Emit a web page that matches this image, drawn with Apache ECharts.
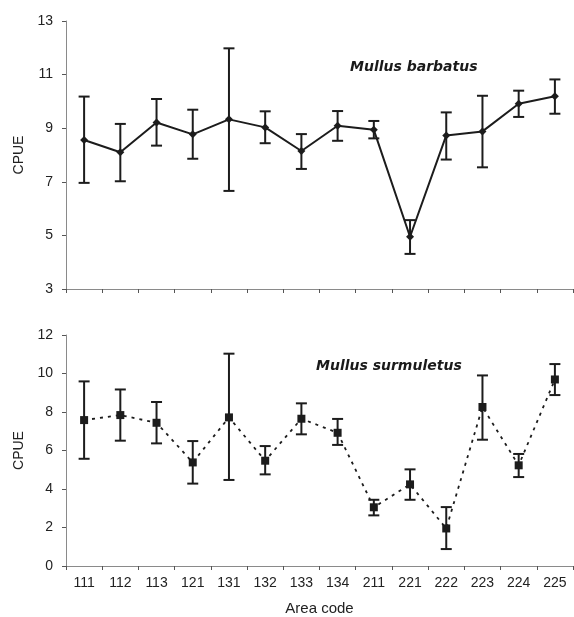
<!DOCTYPE html>
<html>
<head>
<meta charset="utf-8">
<script src="https://cdn.jsdelivr.net/npm/echarts@6/dist/echarts.min.js"></script>
<style>
  html, body { margin: 0; padding: 0; background: #fff; }
  #main { width: 574px; height: 617px; }
</style>
</head>
<body>
<div id="main"></div>
<script>
// Area codes along the x axis
const areas = ['111', '112', '113', '121', '131', '132', '133', '134', '211', '221', '222', '223', '224', '225'];

// Mullus barbatus: mean CPUE and error bar ends
const barbatusMean = [8.56, 8.10, 9.21, 8.77, 9.33, 9.03, 8.15, 9.09, 8.94, 4.95, 8.73, 8.88, 9.91, 10.19];
const barbatusLow = [6.96, 7.02, 8.35, 7.86, 6.66, 8.44, 7.48, 8.53, 8.62, 4.31, 7.83, 7.54, 9.42, 9.54];
const barbatusHigh = [10.18, 9.16, 10.09, 9.69, 11.98, 9.63, 8.78, 9.64, 9.27, 5.57, 9.59, 10.21, 10.40, 10.82];

// Mullus surmuletus: mean CPUE and error bar ends
const surmuletusMean = [7.58, 7.84, 7.44, 5.38, 7.72, 5.47, 7.65, 6.92, 3.05, 4.24, 1.95, 8.26, 5.23, 9.69];
const surmuletusLow = [5.57, 6.51, 6.37, 4.28, 4.47, 4.76, 6.84, 6.29, 2.63, 3.44, 0.88, 6.56, 4.62, 8.88];
const surmuletusHigh = [9.59, 9.17, 8.52, 6.49, 11.03, 6.23, 8.45, 7.64, 3.44, 5.02, 3.06, 9.90, 5.82, 10.49];

const ink = '#1c1c1c';
const font = 'Liberation Sans, Arial, sans-serif';

// [index, low, high] rows for the error bar series
const errRows = (low, high) => low.map((v, i) => [i, v, high[i]]);

const renderErr = (params, api) => {
  const x = api.value(0);
  const lo = api.coord([x, api.value(1)]);
  const hi = api.coord([x, api.value(2)]);
  const w = 5.5;
  const style = { stroke: ink, lineWidth: 2 };
  return {
    type: 'group',
    children: [
      { type: 'line', shape: { x1: hi[0], y1: hi[1], x2: lo[0], y2: lo[1] }, style },
      { type: 'line', shape: { x1: hi[0] - w, y1: hi[1], x2: hi[0] + w, y2: hi[1] }, style },
      { type: 'line', shape: { x1: lo[0] - w, y1: lo[1], x2: lo[0] + w, y2: lo[1] }, style }
    ]
  };
};

const axisLine = { show: true, lineStyle: { color: '#8a8a8a', width: 1 } };
const axisTick = { show: true, length: 4, lineStyle: { color: '#555', width: 1 } };

const makeX = (gridIndex, showLabels) => ({
  type: 'category',
  gridIndex,
  data: areas,
  boundaryGap: true,
  axisLine,
  axisTick,
  axisLabel: {
    show: showLabels,
    color: '#222',
    fontSize: 14,
    fontFamily: font,
    margin: 10
  },
  splitLine: { show: false },
  name: showLabels ? 'Area code' : '',
  nameLocation: 'middle',
  nameGap: 35,
  nameTextStyle: { color: '#222', fontSize: 15, fontFamily: font }
});

const makeY = (gridIndex, min, max, interval) => ({
  type: 'value',
  gridIndex,
  min,
  max,
  interval,
  axisLine,
  axisTick,
  axisLabel: { color: '#222', fontSize: 14, fontFamily: font, margin: 13 },
  splitLine: { show: false },
  name: 'CPUE',
  nameLocation: 'middle',
  nameGap: 36,
  nameRotate: 90,
  nameTextStyle: { color: '#222', fontSize: 14, fontFamily: font }
});

const titleStyle = {
  fontSize: 14,
  fontWeight: 'bold',
  fontStyle: 'italic',
  color: '#1a1a1a',
  fontFamily: 'DejaVu Sans, sans-serif'
};

const option = {
  animation: false,
  backgroundColor: '#fff',
  title: [
    { text: 'Mullus barbatus', left: 345, top: 55, textStyle: titleStyle },
    { text: 'Mullus surmuletus', left: 311, top: 354, textStyle: titleStyle }
  ],
  grid: [
    { left: 66, right: 1, top: 21, height: 268, outerBoundsMode: 'none', containLabel: false },
    { left: 66, right: 1, top: 335, height: 231, outerBoundsMode: 'none', containLabel: false }
  ],
  xAxis: [makeX(0, false), makeX(1, true)],
  yAxis: [makeY(0, 3, 13, 2), makeY(1, 0, 12, 2)],
  series: [
    {
      type: 'custom',
      xAxisIndex: 0,
      yAxisIndex: 0,
      renderItem: renderErr,
      encode: { x: 0, y: [1, 2] },
      data: errRows(barbatusLow, barbatusHigh),
      z: 2
    },
    {
      type: 'line',
      xAxisIndex: 0,
      yAxisIndex: 0,
      data: barbatusMean,
      symbol: 'diamond',
      symbolSize: 8,
      itemStyle: { color: ink },
      lineStyle: { color: ink, width: 2 },
      z: 3
    },
    {
      type: 'custom',
      xAxisIndex: 1,
      yAxisIndex: 1,
      renderItem: renderErr,
      encode: { x: 0, y: [1, 2] },
      data: errRows(surmuletusLow, surmuletusHigh),
      z: 2
    },
    {
      type: 'line',
      xAxisIndex: 1,
      yAxisIndex: 1,
      data: surmuletusMean,
      symbol: 'rect',
      symbolSize: 8,
      itemStyle: { color: ink },
      lineStyle: { color: ink, width: 1.8, type: [3, 5] },
      z: 3
    }
  ]
};

const chart = echarts.init(document.getElementById('main'));
chart.setOption(option);
</script>
</body>
</html>
